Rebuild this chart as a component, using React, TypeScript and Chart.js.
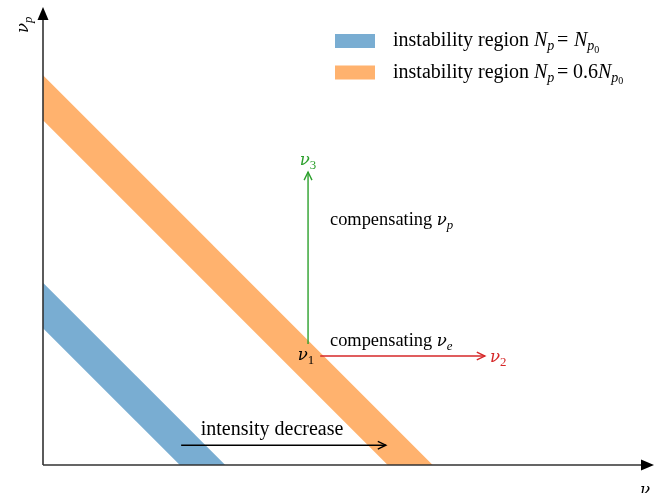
import React, { useEffect, useRef } from 'react';
import { Chart, registerables } from 'chart.js';
Chart.register(...registerables);

// ν_e + ν_p ranges of the two instability bands (axis units)
const blueBand = [0.304, 0.405];
const orangeBand = [0.766, 0.866];
const bandColors = ['#79add2', '#ffb26e'];

// arrows [start, end] in axis units
const greenArrow = [[0.589, 0.269], [0.589, 0.651]];
const redArrow = [[0.616, 0.2422], [0.982, 0.2422]];
const intensityArrow = [[0.307, 0.044], [0.762, 0.044]];
const arrowColors = ['#2ca02c', '#d62728', '#000000'];

const xMax = 600 / 450;
const yMax = 1;

type Seg = { t: string; it?: boolean; lvl?: number; greek?: boolean; at?: number };

const FONT = '"Liberation Serif", "Times New Roman", serif';
const GREEK_FONT = '"DejaVu Serif", serif';

const nu = (sub: string, subIt = true): Seg[] => [
  { t: 'ν', it: true, greek: true },
  { t: sub, it: subIt, lvl: 1 },
];

// labels: anchor in axis units, alignment, colour, font size, segments
const labels: { x: number; y: number; align: 'left' | 'center'; color: string; size: number; segs: Seg[] }[] = [
  { x: 0.6378, y: 0.5333, align: 'left', color: '#000', size: 18.4, segs: [{ t: 'compensating ' }, ...nu('p')] },
  { x: 0.6378, y: 0.2644, align: 'left', color: '#000', size: 18.4, segs: [{ t: 'compensating ' }, ...nu('e')] },
  { x: 0.5089, y: 0.0667, align: 'center', color: '#000', size: 20, segs: [{ t: 'intensity decrease' }] },
  { x: 0.5844, y: 0.2333, align: 'center', color: '#000', size: 18.4, segs: nu('1', false) },
  { x: 0.9933, y: 0.2289, align: 'left', color: '#d62728', size: 18.4, segs: nu('2', false) },
  { x: 0.5889, y: 0.6667, align: 'center', color: '#2ca02c', size: 18.4, segs: nu('3', false) },
];

const legendSegs: Seg[][] = [
  [
    { t: 'instability region' },
    { t: 'N', it: true, at: 141 },
    { t: 'p', it: true, lvl: 1 },
    { t: '=', at: 164 },
    { t: 'N', it: true, at: 181 },
    { t: 'p', it: true, lvl: 1 },
    { t: '0', lvl: 2 },
  ],
  [
    { t: 'instability region' },
    { t: 'N', it: true, at: 141 },
    { t: 'p', it: true, lvl: 1 },
    { t: '=', at: 164 },
    { t: '0.6', at: 180 },
    { t: 'N', it: true },
    { t: 'p', it: true, lvl: 1 },
    { t: '0', lvl: 2 },
  ],
];

function segFont(s: Seg, size: number) {
  let sz = s.lvl === 1 ? size * 0.7 : s.lvl === 2 ? size * 0.5 : size;
  if (s.greek) sz *= 0.9;
  return `${s.it ? 'italic ' : ''}${sz}px ${s.greek ? GREEK_FONT : FONT}`;
}
function segDy(s: Seg, size: number) {
  return s.lvl === 1 ? size * 0.2 : s.lvl === 2 ? size * 0.32 : 0;
}
function drawMath(ctx: CanvasRenderingContext2D, segs: Seg[], x: number, y: number, size: number, color: string, align: 'left' | 'center') {
  ctx.save();
  ctx.fillStyle = color;
  ctx.textBaseline = 'alphabetic';
  ctx.textAlign = 'left';
  let total = 0;
  const widths = segs.map((s) => {
    ctx.font = segFont(s, size);
    const w = ctx.measureText(s.t).width;
    total += w;
    return w;
  });
  let cx = align === 'center' ? x - total / 2 : x;
  const start = cx;
  segs.forEach((s, i) => {
    if (s.at !== undefined) cx = start + s.at;
    ctx.font = segFont(s, size);
    ctx.fillText(s.t, cx, y + segDy(s, size));
    cx += widths[i];
  });
  ctx.restore();
}

const bandUpper = (b: number[]) => [
  { x: 0, y: b[1] },
  { x: b[0], y: b[1] - b[0] },
  { x: b[1], y: 0 },
];
const bandLower = (b: number[]) => [
  { x: 0, y: b[0] },
  { x: b[0], y: 0 },
  { x: b[1], y: 0 },
];
const toPts = (a: number[][]) => a.map((p) => ({ x: p[0], y: p[1] }));

const decorPlugin = {
  id: 'decor',
  afterDatasetsDraw(chart: any) {
    const ctx: CanvasRenderingContext2D = chart.ctx;
    const xs = chart.scales.x;
    const ys = chart.scales.y;
    const ox = xs.getPixelForValue(0);
    const oy = ys.getPixelForValue(0);
    ctx.save();
    // axes
    ctx.strokeStyle = '#333';
    ctx.fillStyle = '#000';
    ctx.lineWidth = 1.6;
    const xEnd = chart.chartArea.right - 2;
    const yEnd = chart.chartArea.top + 5;
    ctx.beginPath();
    ctx.moveTo(ox, oy);
    ctx.lineTo(xEnd, oy);
    ctx.moveTo(ox, oy);
    ctx.lineTo(ox, yEnd);
    ctx.stroke();
    ctx.beginPath();
    ctx.moveTo(xEnd, oy - 5.5);
    ctx.lineTo(xEnd + 13, oy);
    ctx.lineTo(xEnd, oy + 5.5);
    ctx.closePath();
    ctx.fill();
    ctx.beginPath();
    ctx.moveTo(ox - 5.5, yEnd);
    ctx.lineTo(ox, yEnd - 13);
    ctx.lineTo(ox + 5.5, yEnd);
    ctx.closePath();
    ctx.fill();

    // arrowheads on arrow datasets
    chart.data.datasets.forEach((ds: any, i: number) => {
      if (!ds.isArrow) return;
      const pts = chart.getDatasetMeta(i).data;
      const p1 = pts[pts.length - 1];
      const p0 = pts[pts.length - 2];
      const ang = Math.atan2(p1.y - p0.y, p1.x - p0.x);
      const L = 9;
      const spread = 0.45;
      ctx.strokeStyle = ds.borderColor;
      ctx.lineWidth = 1.4;
      ctx.beginPath();
      ctx.moveTo(p1.x - L * Math.cos(ang - spread), p1.y - L * Math.sin(ang - spread));
      ctx.lineTo(p1.x, p1.y);
      ctx.lineTo(p1.x - L * Math.cos(ang + spread), p1.y - L * Math.sin(ang + spread));
      ctx.stroke();
    });

    // text labels
    labels.forEach((l) => {
      drawMath(ctx, l.segs, xs.getPixelForValue(l.x), ys.getPixelForValue(l.y), l.size, l.color, l.align);
    });

    // axis labels
    ctx.save();
    ctx.translate(28, 33);
    ctx.rotate(-Math.PI / 2);
    drawMath(ctx, nu('p'), 0, 0, 18.4, '#000', 'left');
    ctx.restore();
    drawMath(ctx, nu('e'), 640, 495, 18.4, '#000', 'left');

    // legend
    const rows = [41, 72.5];
    rows.forEach((cy, i) => {
      ctx.fillStyle = bandColors[i];
      ctx.fillRect(335, cy - 7, 40, 14);
      drawMath(ctx, legendSegs[i], 393, cy + 5.3, 20, '#000', 'left');
    });
    ctx.restore();
  },
};

export default function App() {
  const ref = useRef<HTMLCanvasElement>(null);
  useEffect(() => {
    if (!ref.current) return;
    const hidden = 'rgba(0,0,0,0)';
    const band = { borderColor: hidden, borderWidth: 0, pointRadius: 0, order: 2 };
    const arrow = { borderWidth: 1.4, pointRadius: 0, fill: false, isArrow: true, order: 0 };
    const chart = new Chart(ref.current, {
      type: 'line',
      data: {
        datasets: [
          { ...band, data: bandUpper(blueBand), fill: false },
          { ...band, data: bandLower(blueBand), fill: '-1', backgroundColor: bandColors[0] },
          { ...band, data: bandUpper(orangeBand), fill: false },
          { ...band, data: bandLower(orangeBand), fill: '-1', backgroundColor: bandColors[1] },
          { ...arrow, data: toPts(greenArrow), borderColor: arrowColors[0] },
          { ...arrow, data: toPts(redArrow), borderColor: arrowColors[1] },
          { ...arrow, data: toPts(intensityArrow), borderColor: arrowColors[2] },
        ] as any,
      },
      options: {
        animation: false,
        responsive: false,
        layout: { padding: { left: 43, right: 17, top: 15, bottom: 28 } },
        scales: {
          x: { type: 'linear', min: 0, max: xMax, display: false },
          y: { type: 'linear', min: 0, max: yMax, display: false },
        },
        plugins: { legend: { display: false }, tooltip: { enabled: false } },
        elements: { line: { tension: 0 } },
      },
      plugins: [decorPlugin],
    });
    return () => chart.destroy();
  }, []);
  return (
    <div style={{ position: 'absolute', left: 0, top: 0, width: 660, height: 493, background: '#fff' }}>
      <canvas ref={ref} width={660} height={493} />
    </div>
  );
}
